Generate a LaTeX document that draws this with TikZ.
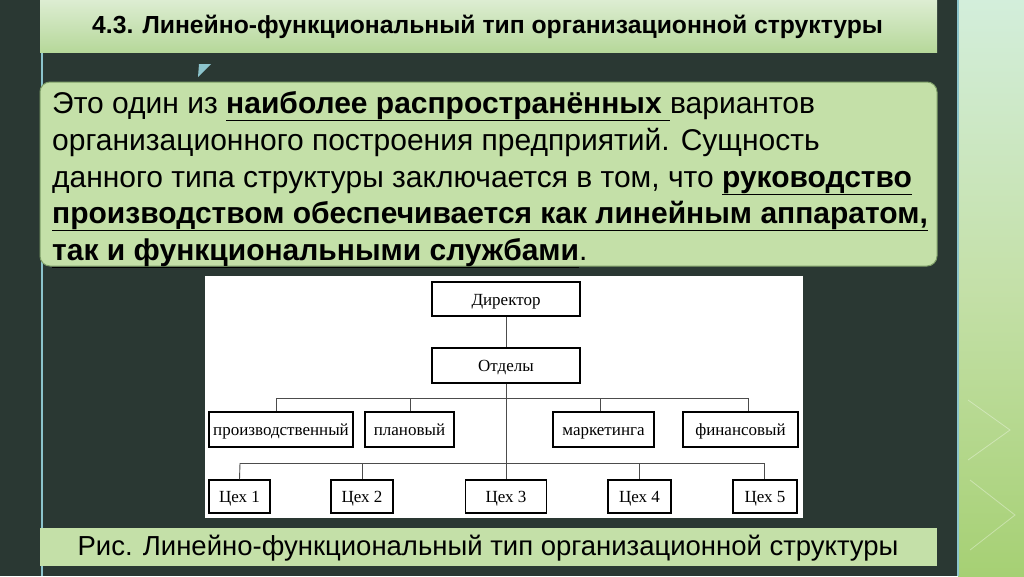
\documentclass[tikz,border=0pt]{standalone}
\usepackage{fontspec}
\setmainfont{Liberation Sans}
\newfontfamily\figserif{Liberation Serif}
\definecolor{bgdark}{HTML}{2A3833}
\definecolor{edgeblue}{HTML}{8CC4CC}
\definecolor{greenA}{HTML}{C4E0A8}
\definecolor{greenB}{HTML}{DDEDD2}
\definecolor{greenC}{HTML}{B6D89A}
\definecolor{greenEdge}{HTML}{7E9E68}
\definecolor{panelTop}{HTML}{D3EEDB}
\definecolor{panelBot}{HTML}{A6D074}
\tikzset{
  orgbox/.style={draw=black, line width=1.2pt, fill=white, inner sep=0pt, text height=12.5pt, text depth=0pt, font=\figserif\fontsize{17}{19}\selectfont, text=black},
  bodyline/.style={anchor=base west, inner sep=0pt, font=\fontsize{30}{34}\selectfont, text=black},
  link/.style={draw=black!70, line width=0.9pt}
}
\begin{document}
\begin{tikzpicture}[x=1pt,y=-1pt]
\useasboundingbox (0,0) rectangle (1024,576);
\fill[bgdark] (0,0) rectangle (1024,576);
% right decorative panel
\shade[top color=panelTop, bottom color=panelBot, middle color=greenA] (958,0) rectangle (1024,576);
\draw[white, opacity=0.35, line width=0.8pt] (968,400) -- (1010,430) -- (968,460);
\draw[white, opacity=0.35, line width=0.8pt] (970,480) -- (1015,515) -- (970,550);
\draw[edgeblue, line width=1.5pt] (958,0) -- (958,576);
\draw[edgeblue, line width=1.2pt] (42,0) -- (42,576);
% title bar
\shade[top color=greenB, bottom color=greenC] (40,0) rectangle (937,52);
\node[anchor=west, inner sep=0pt, font=\bfseries\fontsize{24.7}{28}\selectfont, text=black] (title) at (92,27) {4.3. Линейно-функциональный тип организационной структуры};
% marker
\fill[edgeblue] (199,64) -- (211,64) -- (198,77) -- cycle;
% text box
\draw[greenEdge, fill=greenA, line width=1pt, rounded corners=10pt] (40,82) rectangle (937,266);
\node[bodyline] (t1) at (52,113) {Это один из \underline{\textbf{наиболее распространённых }}вариантов};
\node[bodyline] (t2) at (52,150) {организационного построения предприятий. Сущность};
\node[bodyline] (t3) at (52,187) {данного типа структуры заключается в том, что \underline{\textbf{руководство}}};
\node[bodyline] (t4) at (52,223) {\underline{\textbf{производством обеспечивается как линейным аппаратом,}}};
\node[bodyline] (t5) at (52,260) {\underline{\textbf{так и функциональными службами}}.};
% figure
\fill[white] (205,276) rectangle (803,518);
\node[orgbox, minimum width=148pt, minimum height=34pt] (dir) at (506,299) {Директор};
\node[orgbox, minimum width=148pt, minimum height=35pt] (otd) at (506,365.5) {Отделы};
\node[orgbox, minimum width=144pt, minimum height=35pt] (prod) at (281,429.5) {производственный};
\node[orgbox, minimum width=89pt, minimum height=35pt] (plan) at (409.5,429.5) {плановый};
\node[orgbox, minimum width=101pt, minimum height=35pt] (mark) at (603.5,429.5) {маркетинга};
\node[orgbox, minimum width=115pt, minimum height=35pt] (fin) at (740.5,429.5) {финансовый};
\node[orgbox, minimum width=61pt, minimum height=33pt] (c1) at (239.5,496.5) {Цех 1};
\node[orgbox, minimum width=62pt, minimum height=33pt] (c2) at (362,496.5) {Цех 2};
\node[orgbox, minimum width=81pt, minimum height=33pt] (c3) at (506,496.5) {Цех 3};
\node[orgbox, minimum width=63pt, minimum height=33pt] (c4) at (639.5,496.5) {Цех 4};
\node[orgbox, minimum width=64pt, minimum height=33pt] (c5) at (765,496.5) {Цех 5};
\coordinate (bA1) at (276,398);
\coordinate (bA2) at (410,398);
\coordinate (bA3) at (600,398);
\coordinate (bA4) at (748,398);
\coordinate (bB1) at (240,463);
\coordinate (bB5) at (764,463);
\draw[link] (dir) -- (otd);
\draw[link] (otd.south) -- (c3.north);
\draw[link] (bA1) -- (bA4);
\draw[link] (bA1) -- (bA1 |- prod.north);
\draw[link] (bA2) -- (bA2 |- plan.north);
\draw[link] (bA3) -- (bA3 |- mark.north);
\draw[link] (bA4) -- (bA4 |- fin.north);
\draw[link] (bB1) -- (bB5);
\draw[link] (bB1) -- (c1.north);
\draw[link] (c2.north |- bB1) -- (c2.north);
\draw[link] (c4.north |- bB1) -- (c4.north);
\draw[link] (bB5) -- (bB5 |- c5.north);
% caption bar
\fill[greenA] (40,528) rectangle (937,566);
\node[inner sep=0pt, font=\fontsize{27.5}{30}\selectfont, text=black] (cap) at (488,548) {Рис. Линейно-функциональный тип организационной структуры};
\end{tikzpicture}
\end{document}
